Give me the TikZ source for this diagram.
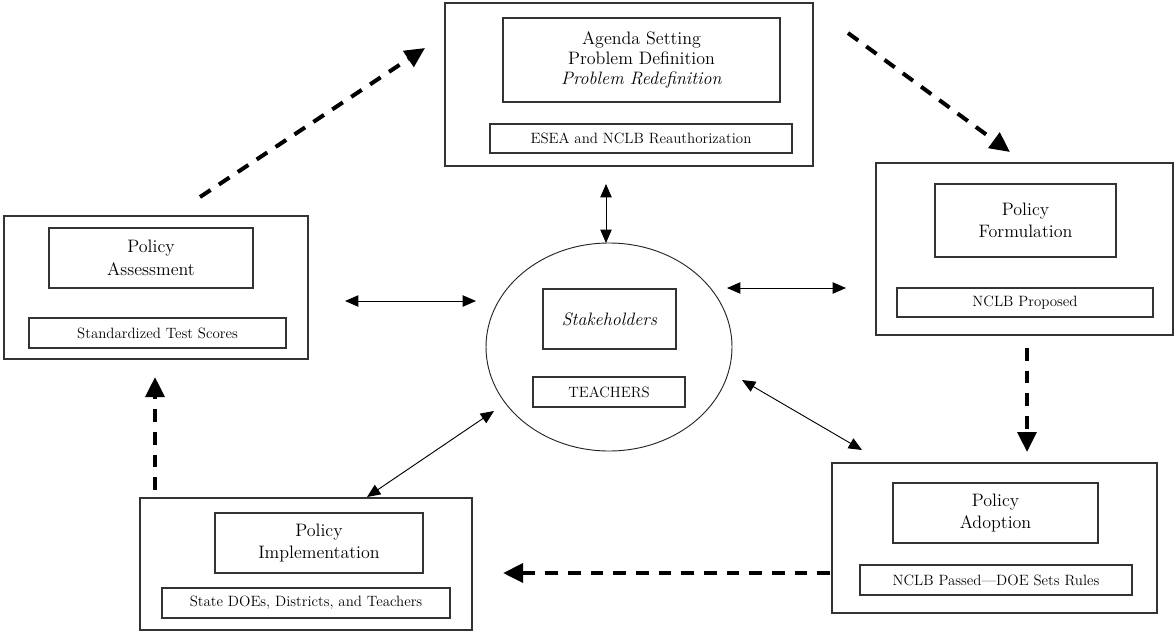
\documentclass[tikz,border=0pt]{standalone}
\usetikzlibrary{arrows.meta,shapes.geometric,fit}
\begin{document}
\begin{tikzpicture}[x=0.75pt,y=-0.75pt,
  box/.style={draw=black!80, line width=0.8pt, inner sep=0pt},
  bigtext/.style={font=\fontsize{13.5}{17}\selectfont, align=center, inner sep=0pt},
  agtext/.style={font=\fontsize{13.5}{15}\selectfont, align=center, inner sep=0pt},
  smalltext/.style={font=\fontsize{11.2}{13}\selectfont, align=center, inner sep=0pt},
  dasharrow/.style={line width=3pt, dash pattern=on 9.5pt off 7.5pt, -{Triangle[length=15pt,width=14pt]}},
  dbl/.style={line width=0.7pt, {Triangle[length=10pt,width=8.5pt]}-{Triangle[length=10pt,width=8.5pt]}}]
\useasboundingbox (0,0) rectangle (1176,632);
\fill[white] (0,0) rectangle (1176,632);

% Agenda setting (top)
\node[box, fit={(445,3)(813,166)}] (agenda) {};
\node[box, fit={(503,18)(780,102)}] (agendaIn) {};
\node[agtext] (agendaL) at (agendaIn.center) {Agenda Setting\\Problem Definition\\\textit{Problem Redefinition}};
\node[box, fit={(490,124)(792,153)}] (agendaTx) {};
\node[smalltext] (agendaTxL) at (agendaTx.center) {ESEA and NCLB Reauthorization};

% Policy formulation (right)
\node[box, fit={(876,163)(1173,335)}] (form) {};
\node[box, fit={(935,184)(1116,257)}] (formIn) {};
\node[bigtext] (formL) at (formIn.center) {Policy\\Formulation};
\node[box, fit={(897,288)(1153,317)}] (formTx) {};
\node[smalltext] (formTxL) at (formTx.center) {NCLB Proposed};

% Policy adoption (bottom right)
\node[box, fit={(832,463)(1157,613)}] (adopt) {};
\node[box, fit={(893,483)(1098,543)}] (adoptIn) {};
\node[bigtext] (adoptL) at (adoptIn.center) {Policy\\Adoption};
\node[box, fit={(860,565)(1132,595)}] (adoptTx) {};
\node[smalltext] (adoptTxL) at (adoptTx.center) {NCLB Passed---DOE Sets Rules};

% Policy implementation (bottom left)
\node[box, fit={(140,498)(472,630)}] (impl) {};
\node[box, fit={(215,513)(423,573)}] (implIn) {};
\node[bigtext] (implL) at (implIn.center) {Policy\\Implementation};
\node[box, fit={(162,588)(450,618)}] (implTx) {};
\node[smalltext] (implTxL) at (implTx.center) {State DOEs, Districts, and Teachers};

% Policy assessment (left)
\node[box, fit={(4,216)(308,359)}] (assess) {};
\node[box, fit={(49,228)(253,288)}] (assessIn) {};
\node[bigtext] (assessL) at (assessIn.center) {Policy\\Assessment};
\node[box, fit={(29,318)(286,348)}] (assessTx) {};
\node[smalltext] (assessTxL) at (assessTx.center) {Standardized Test Scores};

% Stakeholders (center ellipse)
\node[draw=black!85, line width=0.7pt, ellipse, inner sep=0pt, minimum width=184.5pt, minimum height=156pt] (stake) at (609,347) {};
\node[box, fit={(543,289)(676,349)}] (stakeIn) {};
\node[bigtext] (stakeL) at (stakeIn.center) {\textit{Stakeholders}};
\node[box, fit={(533,377)(685,407)}] (stakeTx) {};
\node[smalltext] (stakeTxL) at (stakeTx.center) {TEACHERS};

% connector end points
\coordinate (vA) at (606,184); \coordinate (vB) at (606,243);
\coordinate (lA) at (345,301); \coordinate (lB) at (476,301);
\coordinate (rA) at (727,288); \coordinate (rB) at (846,288);
\coordinate (llA) at (494,411); \coordinate (llB) at (367,497);
\coordinate (lrA) at (742,380); \coordinate (lrB) at (862,450);

\coordinate (dA1) at (200,197); \coordinate (dA2) at (425,48);
\coordinate (dB1) at (848,33); \coordinate (dB2) at (1010,152);
\coordinate (dC1) at (1027,348); \coordinate (dC2) at (1027,452);
\coordinate (dD1) at (830,573); \coordinate (dD2) at (503,573);
\coordinate (dE1) at (155,490); \coordinate (dE2) at (155,377);

% stakeholder links
\draw[dbl] (vA) -- (vB);
\draw[dbl] (lA) -- (lB);
\draw[dbl] (rA) -- (rB);
\draw[dbl] (llA) -- (llB);
\draw[dbl] (lrA) -- (lrB);

% policy cycle
\draw[dasharrow] (dA1) -- (dA2);
\draw[dasharrow] (dB1) -- (dB2);
\draw[dasharrow] (dC1) -- (dC2);
\draw[dasharrow] (dD1) -- (dD2);
\draw[dasharrow] (dE1) -- (dE2);
\end{tikzpicture}
\end{document}
